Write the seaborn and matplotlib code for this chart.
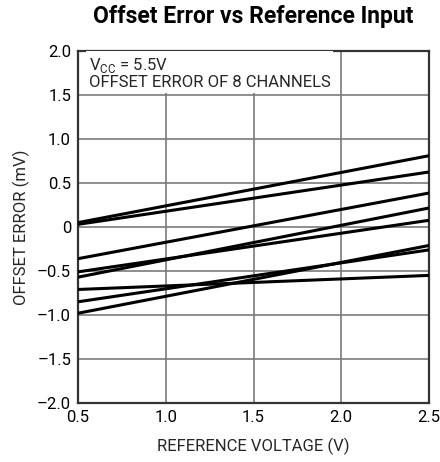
import numpy as np
import pandas as pd
import matplotlib
matplotlib.use('Agg')
import matplotlib.pyplot as plt
import seaborn as sns

# Offset error vs reference input, 8 channels
ref_voltage = [0.5, 2.5]
channels = ['CH1', 'CH2', 'CH3', 'CH4', 'CH5', 'CH6', 'CH7', 'CH8']
offset_start = [0.05, 0.03, -0.36, -0.51, -0.57, -0.71, -0.85, -0.98]
offset_end = [0.81, 0.625, 0.386, 0.076, 0.216, -0.55, -0.26, -0.21]

y_ticks = [2.0, 1.5, 1.0, 0.5, 0, -0.5, -1.0, -1.5, -2.0]
y_tick_labels = ['2.0', '1.5', '1.0', '0.5', '0', '\u20130.5', '\u20131.0', '\u20131.5', '\u20132.0']
x_ticks = [0.5, 1.0, 1.5, 2.0, 2.5]

rows = []
for ch, y0, y1 in zip(channels, offset_start, offset_end):
    rows.append({'ch': ch, 'v': ref_voltage[0], 'err': y0})
    rows.append({'ch': ch, 'v': ref_voltage[1], 'err': y1})
df = pd.DataFrame(rows)

sns.set_style('white')
plt.rcParams['font.family'] = ['Roboto', 'DejaVu Sans']
plt.rcParams['mathtext.fontset'] = 'custom'
plt.rcParams['mathtext.rm'] = 'Roboto'

fig = plt.figure(figsize=(4.4, 4.62), dpi=100)
ax = fig.add_axes([78 / 440, 1 - 403 / 462, 351 / 440, 352 / 462])

sns.lineplot(data=df, x='v', y='err', units='ch', estimator=None,
             color='black', linewidth=2.2, ax=ax, zorder=3)

ax.set_xlim(0.5, 2.5)
ax.set_ylim(-2.0, 2.0)
ax.set_xticks(x_ticks)
ax.set_xticklabels([f'{t:.1f}' for t in x_ticks])
ax.set_yticks(y_ticks)
ax.set_yticklabels(y_tick_labels)
ax.tick_params(labelsize=12, length=0, pad=5, colors='black')
ax.grid(True, color='#7a7a7a', linewidth=1.2)
for s in ax.spines.values():
    s.set_color('#333333')
    s.set_linewidth(1.6)

ax.set_xlabel('REFERENCE VOLTAGE (V)', fontsize=12, labelpad=9)
ax.set_ylabel('OFFSET ERROR (mV)', fontsize=12, labelpad=5)
fig.suptitle('Offset Error vs Reference Input', fontsize=16.5, fontweight='bold',
             x=(78 + 429) / 2 / 440, y=0.99, color='black')

ax.text(0.03, 0.985, 'V$_{\\mathregular{CC}}$ = 5.5V\nOFFSET ERROR OF 8 CHANNELS',
        transform=ax.transAxes, ha='left', va='top', fontsize=12, linespacing=0.95,
        bbox=dict(facecolor='white', edgecolor='none', pad=2), zorder=4)

fig.savefig('out.png', dpi=100)
